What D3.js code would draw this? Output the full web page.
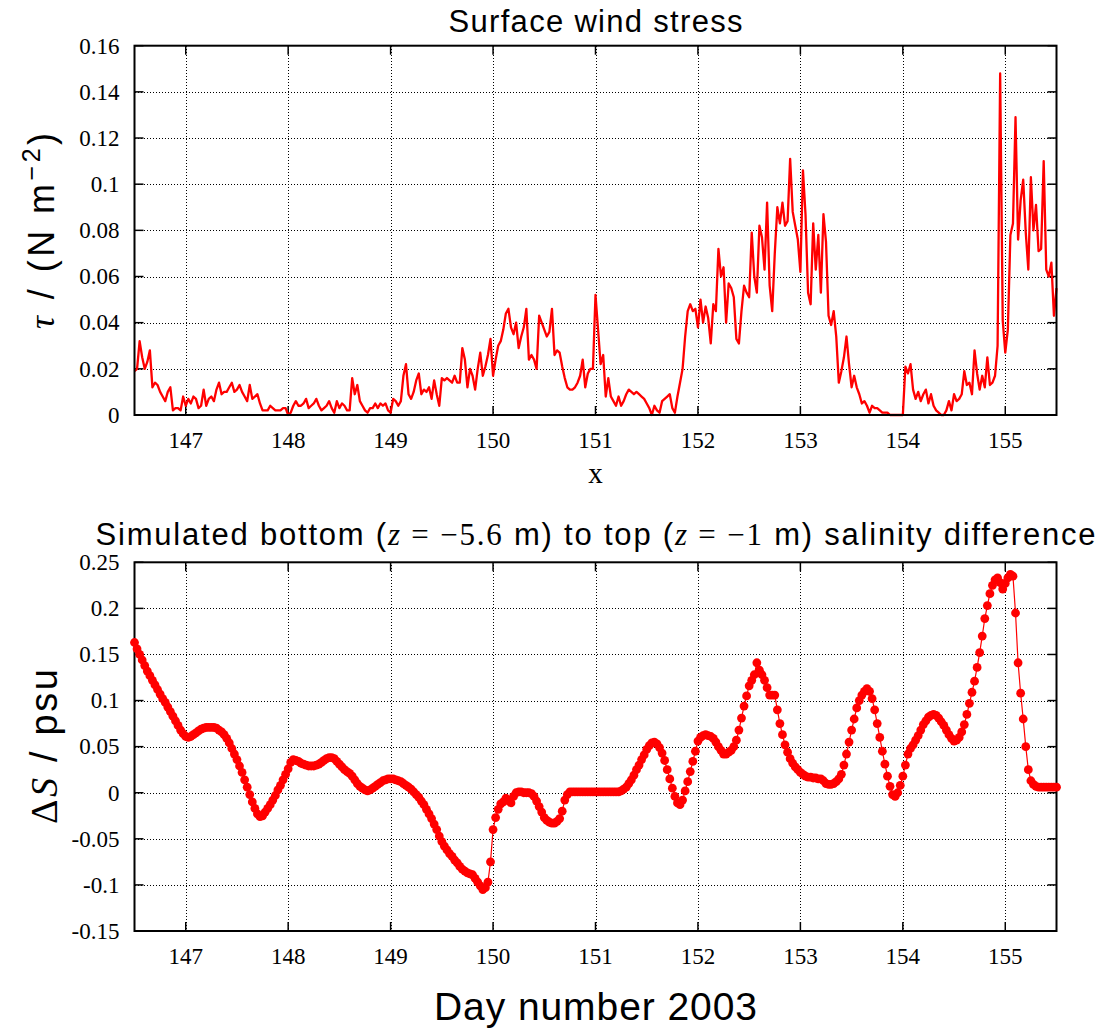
<!DOCTYPE html>
<html lang="en">
<head>
<meta charset="utf-8">
<title>Surface wind stress and salinity difference</title>
<script src="https://cdn.jsdelivr.net/npm/d3@7"></script>
<style>
  body { margin: 0; background: #fff; }
  .tick-label { font-family: "Liberation Serif", "Times New Roman", serif; font-size: 23px; fill: #000; }
  .sans { font-family: "Liberation Sans", Arial, Helvetica, sans-serif; fill: #000; }
  .math { font-family: "Liberation Serif", "Times New Roman", serif; }
</style>
</head>
<body>
<script>
// both series are sampled every 0.025 day starting at day 146.5
var dayStart = 146.5;
var dayStep = 0.025;

var dayTicks = [147, 148, 149, 150, 151, 152, 153, 154, 155];
var tauTicks = [0, 0.02, 0.04, 0.06, 0.08, 0.1, 0.12, 0.14, 0.16];
var dsTicks = [-0.15, -0.1, -0.05, 0, 0.05, 0.1, 0.15, 0.2, 0.25];

// surface wind stress, N m^-2
var windStress = [
  0.019, 0.020, 0.032, 0.025, 0.020, 0.023, 0.028, 0.012, 0.014, 0.013,
  0.010, 0.008, 0.006, 0.010, 0.012, 0.002, 0.003, 0.003, 0.002, 0.008,
  0.004, 0.007, 0.005, 0.008, 0.007, 0.003, 0.004, 0.011, 0.004, 0.007,
  0.008, 0.006, 0.011, 0.014, 0.009, 0.010, 0.010, 0.012, 0.014, 0.010,
  0.011, 0.013, 0.010, 0.008, 0.006, 0.013, 0.007, 0.008, 0.009, 0.005,
  0.002, 0.002, 0.002, 0.004, 0.003, 0.002, 0.002, 0.002, 0.003, 0.003,
  0.000, 0.001, 0.004, 0.006, 0.004, 0.004, 0.005, 0.007, 0.003, 0.004,
  0.005, 0.007, 0.004, 0.002, 0.003, 0.004, 0.006, 0.003, 0.001, 0.006,
  0.003, 0.005, 0.004, 0.002, 0.002, 0.016, 0.009, 0.013, 0.006, 0.004,
  0.002, 0.001, 0.003, 0.003, 0.005, 0.003, 0.005, 0.004, 0.005, 0.002,
  0.001, 0.007, 0.006, 0.004, 0.006, 0.017, 0.022, 0.009, 0.007, 0.010,
  0.015, 0.018, 0.009, 0.011, 0.010, 0.012, 0.007, 0.015, 0.009, 0.004,
  0.016, 0.015, 0.016, 0.015, 0.014, 0.017, 0.014, 0.014, 0.029, 0.024,
  0.012, 0.020, 0.017, 0.011, 0.020, 0.027, 0.017, 0.021, 0.026, 0.033,
  0.017, 0.024, 0.030, 0.032, 0.037, 0.044, 0.046, 0.038, 0.035, 0.040,
  0.029, 0.034, 0.038, 0.046, 0.024, 0.026, 0.024, 0.020, 0.043, 0.040,
  0.037, 0.034, 0.036, 0.046, 0.026, 0.028, 0.027, 0.021, 0.016, 0.012,
  0.011, 0.011, 0.012, 0.014, 0.017, 0.024, 0.012, 0.018, 0.020, 0.020,
  0.052, 0.037, 0.022, 0.026, 0.008, 0.016, 0.008, 0.006, 0.004, 0.008,
  0.004, 0.006, 0.009, 0.011, 0.010, 0.009, 0.010, 0.009, 0.008, 0.007,
  0.005, 0.003, 0.000, 0.004, 0.002, 0.001, 0.006, 0.007, 0.008, 0.009,
  0.003, 0.001, 0.008, 0.014, 0.020, 0.034, 0.045, 0.048, 0.045, 0.046,
  0.038, 0.050, 0.040, 0.047, 0.042, 0.031, 0.048, 0.045, 0.072, 0.060,
  0.064, 0.040, 0.057, 0.055, 0.051, 0.033, 0.031, 0.045, 0.056, 0.053,
  0.051, 0.079, 0.060, 0.053, 0.082, 0.077, 0.063, 0.092, 0.056, 0.045,
  0.070, 0.090, 0.083, 0.092, 0.082, 0.084, 0.111, 0.088, 0.082, 0.076,
  0.062, 0.106, 0.087, 0.053, 0.048, 0.083, 0.063, 0.078, 0.053, 0.087,
  0.075, 0.043, 0.039, 0.045, 0.034, 0.014, 0.019, 0.025, 0.034, 0.022,
  0.012, 0.017, 0.012, 0.009, 0.005, 0.006, 0.004, 0.001, 0.004, 0.003,
  0.003, 0.002, 0.001, 0.001, 0.001, 0.000, 0.000, 0.000, 0.000, 0.000,
  0.000, 0.021, 0.018, 0.022, 0.011, 0.007, 0.010, 0.006, 0.009, 0.011,
  0.005, 0.009, 0.004, 0.002, 0.001, 0.000, 0.000, 0.002, 0.006, 0.002,
  0.009, 0.006, 0.007, 0.009, 0.019, 0.013, 0.014, 0.009, 0.028, 0.018,
  0.011, 0.017, 0.012, 0.025, 0.013, 0.014, 0.017, 0.030, 0.148, 0.041,
  0.027, 0.037, 0.078, 0.083, 0.129, 0.076, 0.093, 0.102, 0.079, 0.063,
  0.103, 0.080, 0.091, 0.071, 0.072, 0.110, 0.063, 0.060, 0.066, 0.043,
  0.055
];

// simulated bottom-to-top salinity difference, psu
var salinityDiff = [
  0.163, 0.156, 0.150, 0.144, 0.138, 0.132, 0.127, 0.122, 0.117, 0.112,
  0.107, 0.102, 0.098, 0.093, 0.088, 0.083, 0.078, 0.073, 0.068, 0.064,
  0.061, 0.060, 0.061, 0.063, 0.065, 0.067, 0.069, 0.070, 0.071, 0.071,
  0.071, 0.071, 0.070, 0.068, 0.066, 0.063, 0.059, 0.054, 0.048, 0.042,
  0.036, 0.029, 0.022, 0.014, 0.006, -0.002, -0.010, -0.017, -0.023, -0.026,
  -0.025, -0.021, -0.017, -0.013, -0.008, -0.003, 0.003, 0.008, 0.014, 0.020,
  0.026, 0.033, 0.036, 0.035, 0.034, 0.032, 0.031, 0.030, 0.029, 0.029,
  0.029, 0.030, 0.031, 0.033, 0.035, 0.037, 0.038, 0.038, 0.037, 0.034,
  0.031, 0.028, 0.025, 0.023, 0.021, 0.018, 0.014, 0.010, 0.007, 0.005,
  0.003, 0.002, 0.003, 0.005, 0.007, 0.009, 0.011, 0.013, 0.014, 0.015,
  0.015, 0.015, 0.014, 0.013, 0.012, 0.010, 0.008, 0.006, 0.004, 0.001,
  -0.002, -0.005, -0.009, -0.013, -0.018, -0.023, -0.028, -0.034, -0.040, -0.047,
  -0.053, -0.058, -0.062, -0.066, -0.069, -0.073, -0.076, -0.080, -0.083, -0.085,
  -0.087, -0.088, -0.089, -0.093, -0.097, -0.101, -0.105, -0.103, -0.097, -0.075,
  -0.040, -0.027, -0.018, -0.012, -0.010, -0.006, -0.008, -0.011, -0.004, 0.000,
  0.001, 0.001, 0.000, 0.000, 0.000, -0.001, -0.004, -0.009, -0.015, -0.021,
  -0.027, -0.030, -0.032, -0.033, -0.033, -0.031, -0.028, -0.020, -0.008, -0.002,
  0.001, 0.001, 0.001, 0.001, 0.001, 0.001, 0.001, 0.001, 0.001, 0.001,
  0.001, 0.001, 0.001, 0.001, 0.001, 0.001, 0.001, 0.001, 0.001, 0.001,
  0.002, 0.004, 0.006, 0.010, 0.014, 0.019, 0.025, 0.030, 0.036, 0.041,
  0.047, 0.051, 0.054, 0.055, 0.053, 0.049, 0.043, 0.035, 0.025, 0.015,
  0.005, -0.004, -0.011, -0.013, -0.008, 0.002, 0.012, 0.023, 0.034, 0.045,
  0.056, 0.060, 0.062, 0.063, 0.062, 0.061, 0.059, 0.055, 0.050, 0.046,
  0.042, 0.042, 0.044, 0.046, 0.050, 0.057, 0.068, 0.081, 0.094, 0.105,
  0.116, 0.122, 0.128, 0.141, 0.133, 0.128, 0.122, 0.114, 0.106, 0.106,
  0.106, 0.090, 0.075, 0.063, 0.052, 0.044, 0.037, 0.032, 0.028, 0.025,
  0.022, 0.020, 0.018, 0.017, 0.017, 0.016, 0.016, 0.015, 0.015, 0.013,
  0.010, 0.009, 0.009, 0.010, 0.012, 0.015, 0.020, 0.030, 0.042, 0.055,
  0.068, 0.080, 0.092, 0.100, 0.106, 0.110, 0.113, 0.110, 0.102, 0.090,
  0.075, 0.060, 0.045, 0.031, 0.018, 0.007, -0.002, -0.004, 0.000, 0.008,
  0.018, 0.030, 0.042, 0.048, 0.052, 0.057, 0.062, 0.068, 0.074, 0.078,
  0.082, 0.084, 0.085, 0.084, 0.081, 0.077, 0.073, 0.068, 0.063, 0.059,
  0.056, 0.057, 0.060, 0.066, 0.074, 0.085, 0.097, 0.109, 0.121, 0.136,
  0.152, 0.170, 0.189, 0.203, 0.216, 0.225, 0.231, 0.233, 0.228, 0.221,
  0.227, 0.233, 0.237, 0.235, 0.195, 0.141, 0.108, 0.080, 0.050, 0.025,
  0.013, 0.009, 0.007, 0.006, 0.006, 0.006, 0.006, 0.006, 0.006, 0.006,
  0.006
];

var width = 1100, height = 1030;
var left = 134.5, right = 1056.5;
var tickLen = 9;
var fmt = function(d) { return d3.format("~g")(d).replace("\u2212", "-"); };

var svg = d3.select("body").append("svg")
    .attr("width", width)
    .attr("height", height);

var x = d3.scaleLinear().domain([146.5, 155.5]).range([left, right]);

function drawPanel(top, bottom, yDomain, yTicks) {
    var y = d3.scaleLinear().domain(yDomain).range([bottom, top]);
    var g = svg.append("g");

    // dotted grid
    g.selectAll(".hgrid")
        .data(yTicks.filter(function(d) { return d > yDomain[0] && d < yDomain[1]; }))
        .enter().append("line")
        .attr("x1", left).attr("x2", right)
        .attr("y1", function(d) { return Math.round(y(d)) + 0.5; })
        .attr("y2", function(d) { return Math.round(y(d)) + 0.5; })
        .attr("stroke", "#000").attr("stroke-width", 1)
        .attr("stroke-dasharray", "1,2")
        .attr("shape-rendering", "crispEdges");
    g.selectAll(".vgrid")
        .data(dayTicks)
        .enter().append("line")
        .attr("x1", function(d) { return Math.round(x(d)) + 0.5; })
        .attr("x2", function(d) { return Math.round(x(d)) + 0.5; })
        .attr("y1", top).attr("y2", bottom)
        .attr("stroke", "#000").attr("stroke-width", 1)
        .attr("stroke-dasharray", "1,2")
        .attr("shape-rendering", "crispEdges");

    // ticks on all four sides, pointing in
    dayTicks.forEach(function(d) {
        g.append("line").attr("x1", x(d)).attr("x2", x(d))
            .attr("y1", bottom).attr("y2", bottom - tickLen)
            .attr("stroke", "#000").attr("stroke-width", 1.5);
        g.append("line").attr("x1", x(d)).attr("x2", x(d))
            .attr("y1", top).attr("y2", top + tickLen)
            .attr("stroke", "#000").attr("stroke-width", 1.5);
    });
    yTicks.forEach(function(d) {
        g.append("line").attr("x1", left).attr("x2", left + tickLen)
            .attr("y1", y(d)).attr("y2", y(d))
            .attr("stroke", "#000").attr("stroke-width", 1.5);
        g.append("line").attr("x1", right).attr("x2", right - tickLen)
            .attr("y1", y(d)).attr("y2", y(d))
            .attr("stroke", "#000").attr("stroke-width", 1.5);
    });

    // tick labels
    g.selectAll(".ylab")
        .data(yTicks)
        .enter().append("text")
        .attr("class", "tick-label")
        .attr("x", left - 15)
        .attr("y", function(d) { return y(d); })
        .attr("dy", "0.34em")
        .attr("text-anchor", "end")
        .text(fmt);
    g.selectAll(".xlab")
        .data(dayTicks)
        .enter().append("text")
        .attr("class", "tick-label")
        .attr("x", function(d) { return x(d); })
        .attr("y", bottom + 33)
        .attr("text-anchor", "middle")
        .text(function(d) { return d; });

    return { g: g, y: y };
}

// ---- top panel: wind stress
var p1 = drawPanel(45.7, 415, [0, 0.16], tauTicks);
var windLine = d3.line()
    .x(function(d, i) { return x(dayStart + i * dayStep); })
    .y(function(d) { return p1.y(d); });
p1.g.append("path")
    .datum(windStress)
    .attr("d", windLine)
    .attr("fill", "none")
    .attr("stroke", "#ff0000")
    .attr("stroke-width", 2.3)
    .attr("stroke-linejoin", "round");
p1.g.append("rect")
    .attr("x", left).attr("y", 45.7)
    .attr("width", right - left).attr("height", 415 - 45.7)
    .attr("fill", "none").attr("stroke", "#000").attr("stroke-width", 2);

// ---- bottom panel: salinity difference
var p2 = drawPanel(562.3, 931, [-0.15, 0.25], dsTicks);
var salLine = d3.line()
    .x(function(d, i) { return x(dayStart + i * dayStep); })
    .y(function(d) { return p2.y(d); });
p2.g.append("rect")
    .attr("x", left).attr("y", 562.3)
    .attr("width", right - left).attr("height", 931 - 562.3)
    .attr("fill", "none").attr("stroke", "#000").attr("stroke-width", 2);
p2.g.append("path")
    .datum(salinityDiff)
    .attr("d", salLine)
    .attr("fill", "none")
    .attr("stroke", "#ff0000")
    .attr("stroke-width", 1.2);
p2.g.selectAll(".dot")
    .data(salinityDiff)
    .enter().append("circle")
    .attr("cx", function(d, i) { return x(dayStart + i * dayStep); })
    .attr("cy", function(d) { return p2.y(d); })
    .attr("r", 4.4)
    .attr("fill", "#ff0000");

// ---- titles and axis labels
var cx = (left + right) / 2;

svg.append("text")
    .attr("class", "sans")
    .attr("x", cx).attr("y", 32)
    .attr("text-anchor", "middle")
    .attr("font-size", 31)
    .attr("textLength", 294)
    .attr("lengthAdjust", "spacing")
    .text("Surface wind stress");

svg.append("text")
    .attr("class", "math")
    .attr("x", cx).attr("y", 483)
    .attr("text-anchor", "middle")
    .attr("font-size", 29)
    .text("x");

var t2 = svg.append("text")
    .attr("class", "sans")
    .attr("x", cx).attr("y", 545)
    .attr("text-anchor", "middle")
    .attr("font-size", 31)
    .attr("textLength", 1000)
    .attr("lengthAdjust", "spacing");
t2.append("tspan").text("Simulated bottom (");
t2.append("tspan").attr("class", "math").attr("font-style", "italic").text("z");
t2.append("tspan").attr("class", "math").text(" = \u22125.6");
t2.append("tspan").text(" m) to top (");
t2.append("tspan").attr("class", "math").attr("font-style", "italic").text("z");
t2.append("tspan").attr("class", "math").text(" = \u22121");
t2.append("tspan").text(" m) salinity difference");

svg.append("text")
    .attr("class", "sans")
    .attr("x", cx).attr("y", 1020)
    .attr("text-anchor", "middle")
    .attr("font-size", 39)
    .attr("textLength", 323)
    .attr("lengthAdjust", "spacing")
    .text("Day number 2003");

// y label, top panel
var yl1 = svg.append("text")
    .attr("class", "sans")
    .attr("transform", "translate(54,231) rotate(-90)")
    .attr("text-anchor", "middle")
    .attr("font-size", 36)
    .attr("textLength", 196)
    .attr("lengthAdjust", "spacing");
yl1.append("tspan").attr("class", "math").attr("font-style", "italic").text("\u03c4");
yl1.append("tspan").text(" / (N m");
yl1.append("tspan").attr("dy", -14).attr("font-size", 25).text("\u22122");
yl1.append("tspan").attr("dy", 14).text(")");

// y label, bottom panel
var yl2 = svg.append("text")
    .attr("class", "sans")
    .attr("transform", "translate(57,746.5) rotate(-90)")
    .attr("text-anchor", "middle")
    .attr("font-size", 38)
    .attr("textLength", 155)
    .attr("lengthAdjust", "spacing");
yl2.append("tspan").attr("class", "math").text("\u0394");
yl2.append("tspan").attr("class", "math").attr("font-style", "italic").text("S");
yl2.append("tspan").text(" / psu");
</script>
</body>
</html>
